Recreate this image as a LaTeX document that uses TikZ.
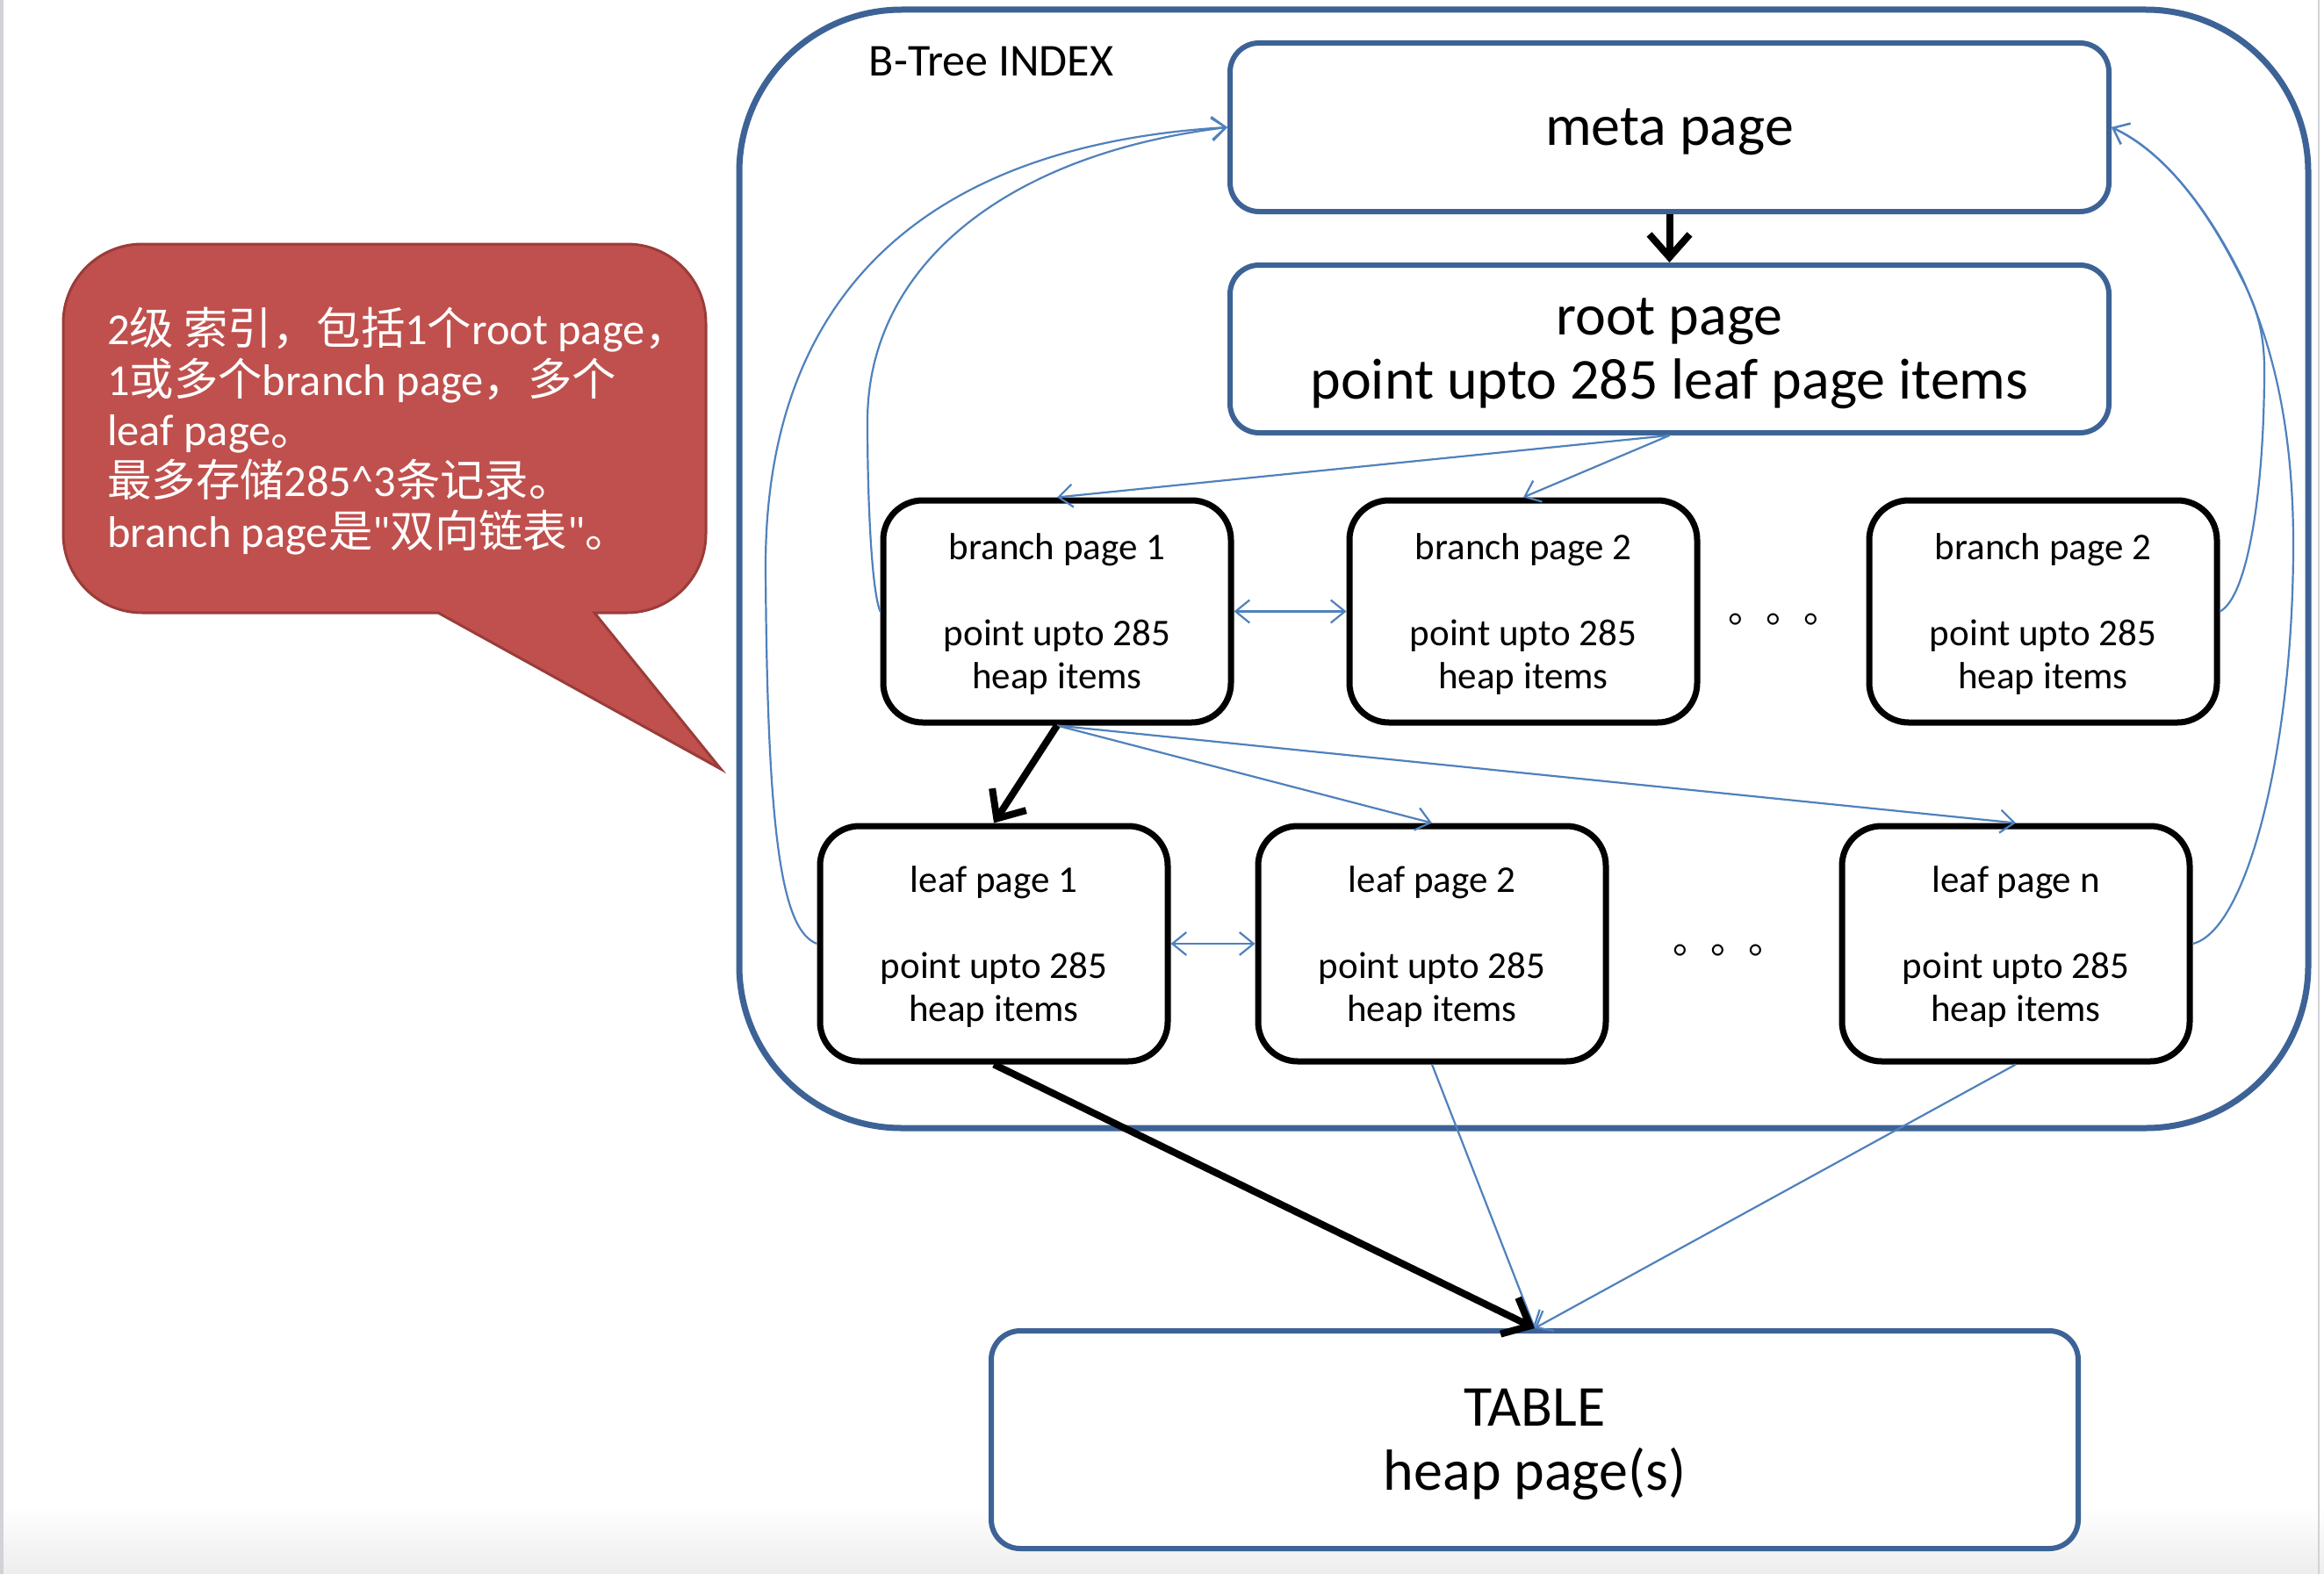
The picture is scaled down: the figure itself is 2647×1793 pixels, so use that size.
\documentclass[tikz,border=0pt]{standalone}
\usepackage{fontspec}
\setmainfont{Carlito}
\newfontfamily\plainfont{Carlito}
\newfontfamily\cjk{Noto Sans CJK SC}
\usetikzlibrary{arrows.meta}
\definecolor{frameblue}{HTML}{3D6396}
\definecolor{linkblue}{HTML}{4F81BD}
\definecolor{calloutred}{HTML}{C0504D}
\definecolor{calloutedge}{HTML}{9A3C39}
\definecolor{edgegray}{HTML}{D2D2D8}
\tikzset{
  bluebox/.style={draw=frameblue, line width=6pt, rounded corners=33pt, fill=white,
    inner sep=0pt, align=center, text depth=0pt, font=\fontsize{66pt}{73pt}\selectfont},
  pagebox/.style={draw=black, line width=7pt, rounded corners=45pt, fill=white,
    minimum width=396pt, inner sep=0pt, align=center, text depth=0pt,
    font=\fontsize{43pt}{49pt}\selectfont},
  link/.style={draw=linkblue, line width=2.2pt, -{Straight Barb[length=16pt,width=26pt]}},
  dlink/.style={draw=linkblue, line width=2.2pt,
    {Straight Barb[length=16pt,width=26pt]}-{Straight Barb[length=16pt,width=26pt]}},
  biglink/.style={draw=black, line width=8pt, -{Straight Barb[length=26pt,width=46pt]}},
  dots/.style={font=\fontsize{43pt}{43pt}\selectfont\cjk, anchor=base west, inner sep=0pt},
}
\begin{document}
\begin{tikzpicture}[x=1pt,y=-1pt]
\useasboundingbox (0,0) rectangle (2647,1793);
% screenshot frame
\fill[white] (0,0) rectangle (2647,1793);
\shade[top color=white, bottom color=black!7] (0,1715) rectangle (2647,1793);
\fill[edgegray] (0,0) rectangle (4,1793);
\fill[edgegray] (2640,0) rectangle (2642,1793);

% B-Tree index container
\node[draw=frameblue, line width=7pt, rounded corners=185pt, minimum width=1787pt,
      minimum height=1274pt, inner sep=0pt] (index) at (1735.5,648) {};
\node[font=\fontsize{52pt}{60pt}\selectfont, inner sep=0pt] (idxlabel) at (1129,70) {B-Tree INDEX};

% callout
\draw[fill=calloutred, draw=calloutedge, line width=3pt]
  (499,698) -- (162,698) .. controls (112.3,698) and (72,657.7) .. (72,608)
  -- (72,368) .. controls (72,318.3) and (112.3,278) .. (162,278)
  -- (714,278) .. controls (763.7,278) and (804,318.3) .. (804,368)
  -- (804,608) .. controls (804,657.7) and (763.7,698) .. (714,698)
  -- (677,698) -- (821,876) -- cycle;
\node[anchor=west, align=left, text=white, inner sep=0pt,
      font=\fontsize{50.4pt}{57.6pt}\selectfont] (note) at (122,491)
 {2{\cjk 级 索引，包括}1{\cjk 个}root page{\cjk ，}\\
  1{\cjk 或多个}branch page{\cjk ，多个}\\
  leaf page{\cjk 。}\\
  {\cjk 最多存储}285\textasciicircum3{\cjk 条记录。}\\
  branch page{\cjk 是}{\plainfont "}{\cjk 双向链表}{\plainfont "}{\cjk 。}};

% pages
\node[bluebox, minimum width=1001pt, minimum height=192pt] (meta) at (1901.5,145) {meta page};
\node[bluebox, minimum width=1001pt, minimum height=191pt] (root) at (1901.5,397.5)
  {root page\\point upto 285 leaf page items};

\node[pagebox, minimum height=253pt] (bp1) at (1204,696.5) {branch page 1\\[49pt]point upto 285\\heap items};
\node[pagebox, minimum height=253pt] (bp2) at (1735,696.5) {branch page 2\\[49pt]point upto 285\\heap items};
\node[pagebox, minimum height=253pt] (bp3) at (2327,696.5) {branch page 2\\[49pt]point upto 285\\heap items};
\node[dots] (bdots) at (1968,709) {。。。};

\node[pagebox, minimum height=268pt] (lp1) at (1132,1075) {leaf page 1\\[49pt]point upto 285\\heap items};
\node[pagebox, minimum height=268pt] (lp2) at (1631,1075) {leaf page 2\\[49pt]point upto 285\\heap items};
\node[pagebox, minimum height=268pt] (lpn) at (2296,1075) {leaf page n\\[49pt]point upto 285\\heap items};
\node[dots] (ldots) at (1905,1086) {。。。};

\node[bluebox, minimum width=1238pt, minimum height=248pt] (table) at (1748,1640) {TABLE\\heap page(s)};

% connectors
\draw[biglink] (meta) -- (root);
\draw[link] (root.south) -- (bp1.north);
\draw[link] (root.south) -- (bp2.north);
\draw[dlink] (bp1.east) -- (bp2.west);
\draw[link] (bp1.south) -- (lp2.north);
\draw[link] (bp1.south) -- (lpn.north);
\draw[biglink] (bp1.south) -- (lp1.north);
\draw[dlink] (lp1.east) -- (lp2.west);
\draw[link] (lp2.south) -- (table.north);
\draw[link] (lpn.south) -- (table.north);
\draw[biglink] (lp1.south) -- (table.north);

% back links to meta page
\draw[link] (lp1.west) .. controls (890,1060) and (874,950) .. (872,650)
  .. controls (870,330) and (1060,165) .. (meta.west);
\draw[link] (bp1.west) .. controls (992,670) and (988,560) .. (988,480)
  .. controls (988,300) and (1150,175) .. (meta.west);
\draw[link] (bp3.east) .. controls (2560,680) and (2579,560) .. (2579,420)
  .. controls (2579,375) and (2568,345) .. (2552,315)
  .. controls (2510,230) and (2460,170) .. (meta.east);
\draw[link] (lpn.east) .. controls (2560,1060) and (2612,850) .. (2612,620)
  .. controls (2612,470) and (2582,380) .. (2554,317)
  .. controls (2512,232) and (2462,172) .. (meta.east);
\end{tikzpicture}
\end{document}
